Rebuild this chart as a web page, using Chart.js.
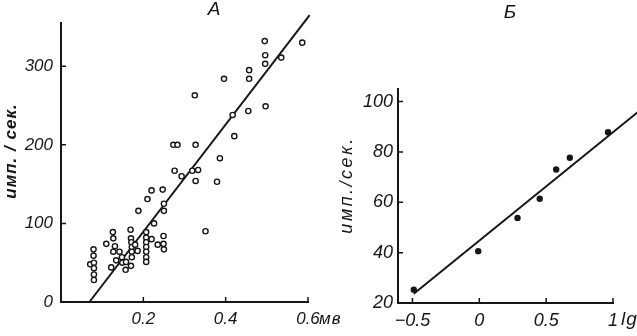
<!DOCTYPE html>
<html lang="ru">
<head>
<meta charset="UTF-8">
<title>имп./сек.</title>
<script src="https://cdn.jsdelivr.net/npm/chart.js"></script>
<style>
    html, body { margin: 0; padding: 0; background: #fff; }
    .painel { position: absolute; top: 0; }
    #boxA { left: 0; width: 345px; height: 336px; }
    #boxB { left: 330px; width: 307px; height: 336px; }
</style>
</head>
<body>
<div class="painel" id="boxA"><canvas id="graficoA"></canvas></div>
<div class="painel" id="boxB"><canvas id="graficoB"></canvas></div>

<script>
// --- painel A: ответ vs. мв ---
var aX = [0.071, 0.079, 0.079, 0.080, 0.080, 0.080, 0.080, 0.110, 0.126, 0.127,
          0.131, 0.127, 0.142, 0.134, 0.122, 0.148, 0.149, 0.157, 0.158, 0.169,
          0.170, 0.171, 0.172, 0.172, 0.172, 0.170, 0.180, 0.186, 0.188, 0.210,
          0.220, 0.247, 0.250, 0.250, 0.226, 0.207, 0.207, 0.207, 0.207, 0.207,
          0.207, 0.207, 0.220, 0.235, 0.249, 0.249, 0.250, 0.351, 0.495, 0.586,
          0.496, 0.496, 0.535, 0.457, 0.457, 0.396, 0.325, 0.455, 0.497, 0.417,
          0.421, 0.273, 0.283, 0.327, 0.386, 0.276, 0.293, 0.319, 0.333, 0.327,
          0.379];
var aY = [48, 67, 59, 50, 43, 35, 28, 74, 89, 81,
          71, 64, 64, 53, 44, 57, 50, 41, 51, 92,
          81, 76, 70, 64, 57, 46, 73, 65, 116, 131,
          142, 143, 125, 116, 100, 89, 82, 76, 70, 64,
          57, 51, 80, 73, 84, 74, 67, 90, 332, 330,
          314, 303, 311, 295, 284, 284, 263, 243, 249, 238,
          211, 200, 200, 200, 183, 167, 160, 167, 168, 154,
          153];
var retaAX = [0.069, 0.604];
var retaAY = [0, 365];
var ticksAX = [0.2, 0.4, 0.6];
var ticksAY = [0, 100, 200, 300];

// --- painel Б ---
var bX = [-0.49, -0.008, 0.286, 0.452, 0.575, 0.677, 0.963];
var bY = [25.3, 40.6, 53.8, 61.4, 73.0, 77.7, 87.8];
var retaBX = [-0.49, 1.187];
var retaBY = [23.7, 95.9];
var ticksBX = [-0.5, 0, 0.5, 1];
var rotulosBX = ['\u22120.5', '0', '0.5', '1'];
var ticksBY = [20, 40, 60, 80, 100];

var TINTA = '#161616';
var FONTE = "'Liberation Sans', Arial, sans-serif";
Chart.defaults.font.family = FONTE;
Chart.defaults.color = TINTA;

function pares(xs, ys) {
    return xs.map((x, i) => ({ x: x, y: ys[i] }));
}

// tracinhos para dentro do grafico
const ticksDentro = {
    id: 'ticksDentro',
    afterDraw(chart) {
        const ctx = chart.ctx, area = chart.chartArea;
        const sx = chart.scales.x, sy = chart.scales.y;
        ctx.save();
        ctx.strokeStyle = TINTA;
        ctx.lineWidth = 1.5;
        ctx.beginPath();
        sx.ticks.forEach(t => {
            const px = sx.getPixelForValue(t.value);
            ctx.moveTo(px, area.bottom);
            ctx.lineTo(px, area.bottom - 5);
        });
        sy.ticks.forEach(t => {
            const py = sy.getPixelForValue(t.value);
            ctx.moveTo(area.left, py);
            ctx.lineTo(area.left + 5, py);
        });
        ctx.stroke();
        ctx.restore();
    }
};

// textos soltos: letra do painel, titulo do eixo y, unidade
const notas = {
    id: 'notas',
    afterDraw(chart, args, opts) {
        const ctx = chart.ctx;
        ctx.save();
        ctx.fillStyle = TINTA;
        ctx.textBaseline = 'middle';
        (opts.itens || []).forEach(n => {
            ctx.font = n.font;
            ctx.letterSpacing = (n.espaco || 0) + 'px';
            ctx.textAlign = n.align || 'center';
            ctx.save();
            ctx.translate(n.x, n.y);
            if (n.rot) ctx.rotate(n.rot);
            ctx.fillText(n.texto, 0, 0);
            ctx.restore();
        });
        ctx.restore();
    }
};

function eixo(min, max, lista, rotulo, fonte, pad, tamanho, ehY) {
    return {
        type: 'linear',
        min: min,
        max: max,
        afterBuildTicks: s => { s.ticks = lista.map(v => ({ value: v })); },
        afterFit: s => { if (ehY) s.width = tamanho; else s.height = tamanho; },
        grid: { display: true, drawOnChartArea: false, drawTicks: false },
        border: { display: true, color: TINTA, width: 2 },
        ticks: {
            autoSkip: false,
            maxRotation: 0,
            padding: pad,
            color: TINTA,
            font: fonte,
            callback: (v) => rotulo(v)
        }
    };
}

new Chart(document.getElementById('graficoA').getContext('2d'), {
    type: 'scatter',
    data: {
        datasets: [{
            data: pares(aX, aY),
            pointRadius: 2.6,
            pointBorderWidth: 1.4,
            pointBackgroundColor: '#fff',
            pointBorderColor: TINTA
        }, {
            data: pares(retaAX, retaAY),
            showLine: true,
            borderColor: TINTA,
            borderWidth: 2,
            pointRadius: 0,
            clip: false
        }]
    },
    options: {
        responsive: true,
        maintainAspectRatio: false,
        animation: false,
        layout: { padding: { top: 23, right: 37, left: 0, bottom: 0 } },
        scales: {
            x: eixo(0, 0.6, ticksAX, v => v.toFixed(1), { size: 17, style: 'italic' }, 7, 34, false),
            y: eixo(0, 355, ticksAY, v => String(v), { size: 17, style: 'italic' }, 8, 61, true)
        },
        plugins: {
            legend: { display: false },
            tooltip: { enabled: false },
            notas: {
                itens: [
                    { texto: 'A', x: 214, y: 10, font: 'italic 19px ' + FONTE },
                    { texto: 'имп. / сек.', x: 11, y: 151, rot: -Math.PI / 2, espaco: 1, font: 'italic bold 17px ' + FONTE },
                    { texto: 'мв', x: 319, y: 319, align: 'left', espaco: 1, font: 'italic 17px ' + FONTE }
                ]
            }
        }
    },
    plugins: [ticksDentro, notas]
});

new Chart(document.getElementById('graficoB').getContext('2d'), {
    type: 'scatter',
    data: {
        datasets: [{
            data: pares(bX, bY),
            pointRadius: 3.2,
            pointBorderWidth: 0,
            pointBackgroundColor: TINTA
        }, {
            data: pares(retaBX, retaBY),
            showLine: true,
            borderColor: TINTA,
            borderWidth: 2,
            pointRadius: 0,
            clip: false
        }]
    },
    options: {
        responsive: true,
        maintainAspectRatio: false,
        animation: false,
        layout: { padding: { top: 89, right: 24, left: 0, bottom: 0 } },
        scales: {
            x: eixo(-0.608, 1.0, ticksBX, v => rotulosBX[ticksBX.indexOf(v)], { size: 18, style: 'italic' }, 7, 33, false),
            y: eixo(20, 105, ticksBY, v => String(v), { size: 18, style: 'italic' }, 5, 68, true)
        },
        plugins: {
            legend: { display: false },
            tooltip: { enabled: false },
            notas: {
                itens: [
                    { texto: 'Б', x: 180, y: 13, font: 'italic 19px ' + FONTE },
                    { texto: 'имп./сек.', x: 17, y: 185, rot: -Math.PI / 2, espaco: 2.5, font: 'italic 18px ' + FONTE },
                    { texto: 'lg', x: 291, y: 320, align: 'left', espaco: 1, font: 'italic 19px ' + FONTE }
                ]
            }
        }
    },
    plugins: [ticksDentro, notas]
});
</script>
</body>
</html>
